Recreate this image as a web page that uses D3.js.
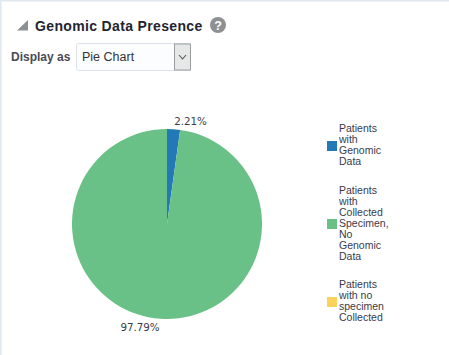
<!DOCTYPE html>
<html>
<head>
<meta charset="utf-8">
<script src="https://cdn.jsdelivr.net/npm/d3@7"></script>
<style>
  html, body { margin: 0; padding: 0; background: #fff; overflow: hidden; }
  svg { display: block; }
  text { font-family: "Liberation Sans", Arial, sans-serif; fill: #333; }
  .title { font-size: 14px; font-weight: bold; fill: #1f2530; letter-spacing: 0.35px; }
  .select-label { font-size: 12px; font-weight: bold; fill: #4a4a55; }
  .select-text { font-size: 12.5px; fill: #333; }
  .pie-label { font-family: "DejaVu Sans", sans-serif; font-size: 10.3px; fill: #3a3a48; }
  .legend-label { font-family: "Liberation Sans", sans-serif; font-size: 10.5px; fill: #3a3a48; }
</style>
</head>
<body>
<svg id="chart" width="449" height="355"></svg>
<script>
// Chart values
const categories = [
  ["Patients", "with", "Genomic", "Data"],
  ["Patients", "with", "Collected", "Specimen,", "No", "Genomic", "Data"],
  ["Patients", "with no", "specimen", "Collected"],
];
const values = [2.21, 97.79, 0];
const colors = ["#2279b5", "#69c187", "#fbd25c"];

const svg = d3.select("#chart");

// Panel edges
svg.append("rect").attr("width", 449).attr("height", 1.5).attr("fill", "#dfe7ef");
svg.append("rect").attr("width", 1.5).attr("height", 355).attr("fill", "#dfe7ef");

// Header
svg.append("path").attr("d", "M17 30.5 L28 30.5 L28 20 Z").attr("fill", "#8c8f93");
svg.append("text").attr("class", "title").attr("x", 35).attr("y", 31).text("Genomic Data Presence");
svg.append("circle").attr("cx", 218).attr("cy", 25).attr("r", 8).attr("fill", "#8e9093");
svg.append("text").attr("x", 218).attr("y", 29.5).attr("text-anchor", "middle")
  .style("font-size", "12.5px").style("font-weight", "bold").style("fill", "#fff").text("?");

// Display-as select
svg.append("text").attr("class", "select-label").attr("x", 11).attr("y", 61).text("Display as");
svg.append("rect").attr("x", 76.5).attr("y", 43.5).attr("width", 114).attr("height", 27).attr("rx", 2)
  .attr("fill", "#fbfdff").attr("stroke", "#dde3e8");
svg.append("text").attr("class", "select-text").attr("x", 82).attr("y", 61).text("Pie Chart");
svg.append("rect").attr("x", 174.5).attr("y", 44).attr("width", 16).attr("height", 26)
  .attr("fill", "#e6e8e8").attr("stroke", "#9a9e9e");
svg.append("path").attr("d", "M179 55 L182.5 59 L186 55").attr("fill", "none").attr("stroke", "#555").attr("stroke-width", 1.1);

// Pie
const radius = 95;
const pie = d3.pie().sort(null).value(d => d)(values);
const arc = d3.arc().innerRadius(0).outerRadius(radius);
const g = svg.append("g").attr("transform", "translate(167,224)");

g.selectAll("path").data(pie).join("path")
  .attr("d", arc)
  .attr("fill", (d, i) => colors[i]);

// Label offsets from the pie centre, as placed in the original
const labelX = [23.5, -27];
const labelY = [-99, 107];
g.selectAll("text").data(pie.filter(d => d.value > 0)).join("text")
  .attr("class", "pie-label")
  .attr("text-anchor", "middle")
  .attr("x", (d, i) => labelX[i])
  .attr("y", (d, i) => labelY[i])
  .text(d => d3.format(".2f")(d.value) + "%");

// Legend
const lineH = 11;
const legendBaseline = [132, 193.5, 288];
const legend = svg.append("g");
categories.forEach((lines, i) => {
  const h = lines.length * lineH;
  legend.append("rect").attr("x", 327).attr("y", Math.round(legendBaseline[i] + h / 2 - 8.5 - 5))
    .attr("width", 10).attr("height", 10).attr("fill", colors[i]);
  const t = legend.append("text").attr("class", "legend-label");
  lines.forEach((line, j) => {
    t.append("tspan").attr("x", 339).attr("y", legendBaseline[i] + j * lineH).text(line);
  });
});
</script>
</body>
</html>
